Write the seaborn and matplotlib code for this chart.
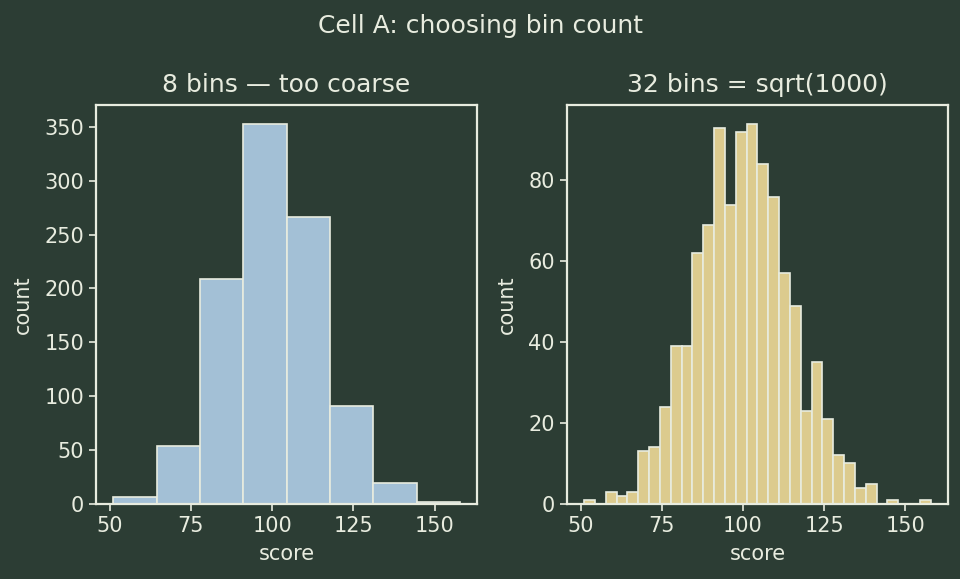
import numpy as np
import pandas as pd
import matplotlib
matplotlib.use('Agg')
import matplotlib.pyplot as plt
import seaborn as sns

BG = '#2c3d34'
FG = '#e8ecdf'
COARSE_COLOR = '#a3c0d6'
FINE_COLOR = '#dccb8e'

# observed score range (min / max of the sample)
SCORE_MIN = 51.1
SCORE_MAX = 157.8

# counts per bin
COARSE_COUNTS = [6, 54, 209, 353, 266, 91, 19, 2]
FINE_COUNTS = [1, 0, 3, 2, 3, 13, 14, 24, 39, 39, 62, 69, 93, 74, 92, 94,
               84, 76, 57, 49, 23, 35, 21, 12, 10, 4, 5, 0, 1, 0, 0, 1]

TITLES = ['8 bins \u2014 too coarse', '32 bins = sqrt(1000)']
SUPTITLE = 'Cell A: choosing bin count'
X_TICKS = [50, 75, 100, 125, 150]


def draw_hist(ax, counts, color, title):
    edges = np.linspace(SCORE_MIN, SCORE_MAX, len(counts) + 1)
    df = pd.DataFrame({
        'score': (edges[:-1] + edges[1:]) / 2,
        'n': counts,
    })
    sns.histplot(data=df, x='score', weights='n', bins=edges.tolist(),
                 color=color, alpha=1.0, edgecolor=FG, linewidth=1.2, ax=ax)
    ax.set_title(title, color=FG, fontsize=18, pad=9)
    ax.set_xlabel('score', color=FG, fontsize=15, labelpad=6)
    ax.set_ylabel('count', color=FG, fontsize=15, labelpad=8)
    ax.set_xticks(X_TICKS)
    ax.tick_params(colors=FG, labelsize=15, length=5, width=1.2)
    for spine in ax.spines.values():
        spine.set_visible(True)
        spine.set_color(FG)
        spine.set_linewidth(1.6)
    ax.set_facecolor(BG)
    ax.grid(False)


def main():
    sns.set_theme(style='ticks')
    plt.rcParams['font.family'] = ['DejaVu Sans']
    fig, axes = plt.subplots(1, 2, figsize=(9.6, 5.79), dpi=100)
    fig.patch.set_facecolor(BG)
    fig.subplots_adjust(left=0.1, right=0.9875, top=0.819, bottom=0.13,
                        wspace=0.235)

    draw_hist(axes[0], COARSE_COUNTS, COARSE_COLOR, TITLES[0])
    draw_hist(axes[1], FINE_COUNTS, FINE_COLOR, TITLES[1])

    fig.suptitle(SUPTITLE, color=FG, fontsize=18, y=0.955, va='center')
    fig.savefig('out.png', facecolor=BG)


if __name__ == '__main__':
    main()
